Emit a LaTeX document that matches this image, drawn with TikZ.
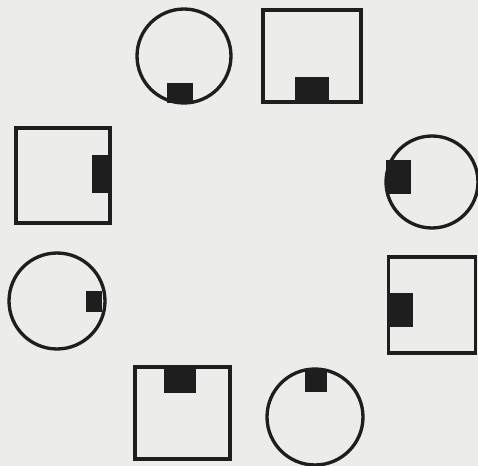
\documentclass[tikz,border=0pt]{standalone}
\usepackage{tikz}
\usetikzlibrary{positioning,calc}
\usepackage{xcolor}
\definecolor{paper}{RGB}{236,236,234}
\definecolor{ink}  {RGB}{30,30,30}

\begin{document}
\begin{tikzpicture}[x=0.02cm, y=-0.02cm,
    seat/.style={draw=ink, line width=1.9pt, inner sep=0pt, outer sep=0pt},
    roundseat/.style={seat, circle, minimum size=#1},
    squareseat/.style={seat, rectangle},
    tab/.style={fill=ink, draw=none, inner sep=0pt, outer sep=0pt}]
  \fill[paper] (0,0) rectangle (478,466);
  \useasboundingbox (0,0) rectangle (478,466);
  % top row
  \node[roundseat=1.88cm] (c1) at (184,56) {};
  \node[squareseat, minimum width=1.96cm, minimum height=1.84cm] (s1) at (312,56) {};
  % left side
  \node[squareseat, minimum width=1.88cm, minimum height=1.9cm] (s2) at (63,175.5) {};
  \node[roundseat=1.92cm] (c3) at (57,301) {};
  % right side
  \node[roundseat=1.84cm] (c2) at (432,182) {};
  \node[squareseat, minimum width=1.74cm, minimum height=1.92cm] (s3) at (432,305) {};
  % bottom row
  \node[squareseat, minimum width=1.9cm, minimum height=1.84cm] (s4) at (182.5,413) {};
  \node[roundseat=1.92cm] (c4) at (315,417) {};
  % black tabs
  \node[tab, minimum width=0.54cm, minimum height=0.4cm, anchor=south] (c1t) at ($(c1.south)+(-4,0)$) {};
  \node[tab, minimum width=0.68cm, minimum height=0.5cm, anchor=south] (s1t) at (s1.south) {};
  \node[tab, minimum width=0.36cm, minimum height=0.76cm, anchor=east] (s2t) at ($(s2.east)+(0,-1.5)$) {};
  \node[tab, minimum width=0.5cm, minimum height=0.7cm, anchor=west] (c2t) at ($(c2.west)+(0,-5)$) {};
  \node[tab, minimum width=0.48cm, minimum height=0.7cm, anchor=west] (s3t) at ($(s3.west)+(0,5)$) {};
  \node[tab, minimum width=0.32cm, minimum height=0.42cm, anchor=east] (c3t) at ($(c3.east)+(-3,1)$) {};
  \node[tab, minimum width=0.64cm, minimum height=0.52cm, anchor=north] (s4t) at ($(s4.north)+(-2.5,0)$) {};
  \node[tab, minimum width=0.46cm, minimum height=0.46cm, anchor=north] (c4t) at ($(c4.north)+(1,0)$) {};
\end{tikzpicture}
\end{document}
